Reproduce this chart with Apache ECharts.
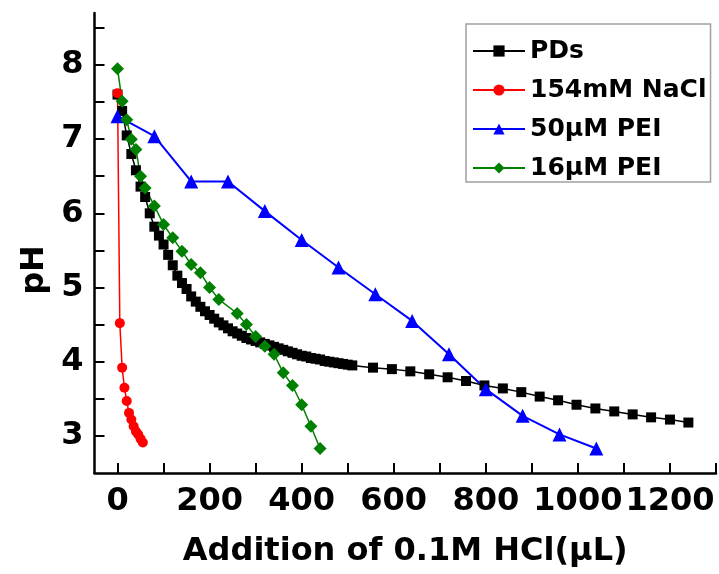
<!DOCTYPE html>
<html>
    <head>
        <meta charset="utf-8">
        <script src="https://cdn.jsdelivr.net/npm/echarts@6.0.0/dist/echarts.min.js"></script>
    </head>
    <body style="margin:0">
        <style>
            html, body, #main {
                width: 719px;
                height: 574px;
                margin: 0;
                background: #fff;
            }
        </style>
        <div id="main"></div>
        <script>
            // values
            var pdsX = [0, 10, 20, 30, 40, 50, 60, 70, 80, 90,
                100, 110, 120, 130, 140, 150, 160, 170, 180, 190,
                200, 210, 220, 230, 240, 250, 260, 270, 280, 290,
                300, 310, 320, 330, 340, 350, 360, 370, 380, 390,
                400, 410, 420, 430, 440, 450, 460, 470, 480, 490,
                500, 510,
                555, 596, 636, 677, 717, 757, 797, 837, 877, 917,
                957, 997, 1038, 1079, 1119, 1159, 1200, 1240];
            var pdsY = [7.60, 7.38, 7.05, 6.80, 6.58, 6.36, 6.22, 6.00, 5.82, 5.70,
                5.58, 5.44, 5.30, 5.16, 5.06, 4.98, 4.88, 4.81, 4.74, 4.68,
                4.63, 4.58, 4.53, 4.49, 4.45, 4.41, 4.38, 4.35, 4.32, 4.30,
                4.28, 4.26, 4.24, 4.22, 4.20, 4.18, 4.16, 4.14, 4.12, 4.10,
                4.08, 4.07, 4.05, 4.04, 4.03, 4.01, 4.00, 3.99, 3.98, 3.97,
                3.96, 3.95,
                3.92, 3.90, 3.87, 3.83, 3.79, 3.74, 3.68, 3.64, 3.59, 3.53,
                3.48, 3.42, 3.37, 3.33, 3.29, 3.25, 3.22, 3.18];

            var naclX = [0, 5, 10, 15, 20, 25, 30, 35, 40, 45, 50, 55];
            var naclY = [7.62, 4.52, 3.92, 3.65, 3.47, 3.31, 3.22, 3.13, 3.06, 3.02, 2.96, 2.91];

            var pei50X = [0, 80, 160, 240, 320, 400, 480, 560, 640, 720, 800, 880, 960, 1040];
            var pei50Y = [7.31, 7.04, 6.43, 6.43, 6.03, 5.64, 5.27, 4.91, 4.55, 4.10, 3.63, 3.27, 3.02, 2.83];

            var pei16X = [0, 10, 20, 30, 40, 50, 60, 80, 100, 120, 140, 160, 180,
                200, 220, 260, 280, 300, 320, 340, 360, 380, 400, 420, 440];
            var pei16Y = [7.95, 7.51, 7.26, 7.00, 6.86, 6.50, 6.34, 6.10, 5.85, 5.67, 5.49, 5.31, 5.20,
                5.00, 4.84, 4.65, 4.50, 4.34, 4.21, 4.10, 3.85, 3.68, 3.42, 3.13, 2.83];

            var seriesNames = ['PDs', '154mM NaCl', '50\u03bcM PEI', '16\u03bcM PEI'];

            var xTicks = [0, 100, 200, 300, 400, 500, 600, 700, 800, 900, 1000, 1100, 1200, 1300];
            var xLabels = [0, 200, 400, 600, 800, 1000, 1200];
            var yTicks = [3, 3.5, 4, 4.5, 5, 5.5, 6, 6.5, 7, 7.5, 8, 8.5];
            var yLabels = [3, 4, 5, 6, 7, 8];

            function pairs(xs, ys) {
                return xs.map(function (x, i) {
                    return [x, ys[i]];
                });
            }

            function plain(v) {
                return String(v);
            }

            var font = 'DejaVu Sans';
            var chart = echarts.init(document.getElementById('main'));

            chart.setOption({
                animation: false,
                backgroundColor: '#fff',
                textStyle: {
                    fontFamily: font
                },
                grid: {
                    left: 94.5,
                    right: 3,
                    top: 13,
                    bottom: 101
                },
                legend: {
                    left: 466,
                    top: 24,
                    orient: 'vertical',
                    padding: [13, 4, 0, 6],
                    itemWidth: 52,
                    itemHeight: 14,
                    itemGap: 11,
                    borderColor: '#a0a0a0',
                    borderWidth: 1.5,
                    textStyle: {
                        fontFamily: font,
                        fontWeight: 'bold',
                        fontSize: 25,
                        lineHeight: 28,
                        color: '#000'
                    },
                    data: seriesNames
                },
                xAxis: {
                    type: 'value',
                    min: -50,
                    max: 1300,
                    name: 'Addition of 0.1M HCl(\u03bcL)',
                    nameLocation: 'middle',
                    nameGap: 63,
                    nameTextStyle: {
                        fontFamily: font,
                        fontWeight: 'bold',
                        fontSize: 32,
                        color: '#000'
                    },
                    splitLine: { show: false },
                    axisLine: {
                        onZero: false,
                        lineStyle: { color: '#000', width: 2.5 }
                    },
                    axisTick: {
                        inside: true,
                        length: 10,
                        customValues: xTicks,
                        lineStyle: { color: '#000', width: 2 }
                    },
                    axisLabel: {
                        customValues: xLabels,
                        formatter: plain,
                        hideOverlap: false,
                        margin: 13,
                        fontFamily: font,
                        fontWeight: 'bold',
                        fontSize: 32,
                        color: '#000'
                    }
                },
                yAxis: {
                    type: 'value',
                    min: 2.5,
                    max: 8.7,
                    name: 'pH',
                    nameLocation: 'middle',
                    nameGap: 44,
                    nameTextStyle: {
                        fontFamily: font,
                        fontWeight: 'bold',
                        fontSize: 32,
                        color: '#000',
                        padding: [0, 54, 0, 0]
                    },
                    splitLine: { show: false },
                    axisLine: {
                        show: true,
                        onZero: false,
                        lineStyle: { color: '#000', width: 2.5 }
                    },
                    axisTick: {
                        show: true,
                        inside: true,
                        length: 10,
                        customValues: yTicks,
                        lineStyle: { color: '#000', width: 2 }
                    },
                    axisLabel: {
                        customValues: yLabels,
                        formatter: plain,
                        margin: 11,
                        fontFamily: font,
                        fontWeight: 'bold',
                        fontSize: 32,
                        color: '#000'
                    }
                },
                series: [
                    {
                        name: seriesNames[0],
                        type: 'line',
                        data: pairs(pdsX, pdsY),
                        symbol: 'rect',
                        symbolSize: 10,
                        itemStyle: { color: '#000' },
                        lineStyle: { color: '#000', width: 1.5 }
                    },
                    {
                        name: seriesNames[1],
                        type: 'line',
                        data: pairs(naclX, naclY),
                        symbol: 'circle',
                        symbolSize: 10,
                        itemStyle: { color: '#ff0000' },
                        lineStyle: { color: '#ff0000', width: 1.5 }
                    },
                    {
                        name: seriesNames[2],
                        type: 'line',
                        data: pairs(pei50X, pei50Y),
                        symbol: 'triangle',
                        symbolSize: 14,
                        itemStyle: { color: '#0000ff' },
                        lineStyle: { color: '#0000ff', width: 2 }
                    },
                    {
                        name: seriesNames[3],
                        type: 'line',
                        data: pairs(pei16X, pei16Y),
                        symbol: 'diamond',
                        symbolSize: 13,
                        itemStyle: { color: '#008000' },
                        lineStyle: { color: '#008000', width: 1.5 }
                    }
                ]
            });
        </script>
    </body>
</html>
